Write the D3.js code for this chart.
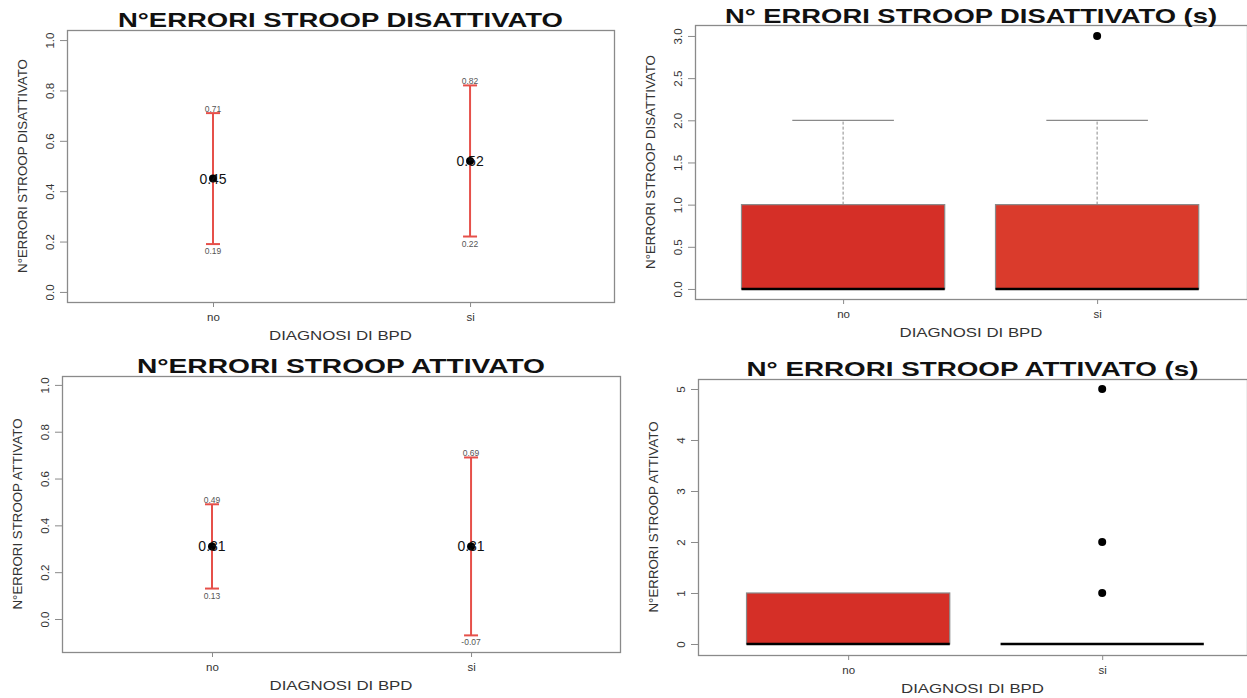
<!DOCTYPE html>
<html lang="en">
<head>
<meta charset="UTF-8">
<title>N°ERRORI STROOP</title>
<script src="https://d3js.org/d3.v7.min.js"></script>
<style>
    body { margin: 0; background: #fff; }
    svg { display: block; font-family: "Liberation Sans", Arial, sans-serif; }
</style>
</head>
<body>
<svg id="chart" width="1247" height="698"></svg>

<script>
    // groups on the x axis
    const groups = ["no", "si"];

    // mean with confidence interval, stroop disattivato
    const disMean = [0.45, 0.52];
    const disLower = [0.19, 0.22];
    const disUpper = [0.71, 0.82];

    // mean with confidence interval, stroop attivato
    const attMean = [0.31, 0.31];
    const attLower = [0.13, -0.07];
    const attUpper = [0.49, 0.69];

    // boxplot stats, stroop disattivato (s)
    const disBoxLow = [0, 0];
    const disQ1 = [0, 0];
    const disMedian = [0, 0];
    const disQ3 = [1, 1];
    const disBoxHigh = [2, 2];
    const disOutliers = [[], [3]];

    // boxplot stats, stroop attivato (s)
    const attBoxLow = [0, 0];
    const attQ1 = [0, 0];
    const attMedian = [0, 0];
    const attQ3 = [1, 0];
    const attBoxHigh = [1, 0];
    const attOutliers = [[], [1, 2, 5]];

    // tick labels
    const meanTicks = [0, 0.2, 0.4, 0.6, 0.8, 1.0];
    const disTicks = [0, 0.5, 1.0, 1.5, 2.0, 2.5, 3.0];
    const attTicks = [0, 1, 2, 3, 4, 5];

    const svg = d3.select("#chart");
    const redBar = "#e6504a";
    const frameCol = "#8a8a8a";

    // R-style number text, plain hyphen for negatives
    const fmt2 = v => v.toFixed(2);

    // draws the frame, axes and titles of one panel, returns the scales
    function panel(p) {
        const g = svg.append("g");
        const x = d3.scaleLinear().domain(p.xlim).range([p.left, p.right]);
        const y = d3.scaleLinear().domain(p.ylim).range([p.bottom, p.top]);

        g.append("rect")
            .attr("x", p.left + 0.5)
            .attr("y", p.top + 0.5)
            .attr("width", p.right - p.left)
            .attr("height", p.bottom - p.top)
            .attr("fill", "none")
            .attr("stroke", frameCol)
            .attr("stroke-width", 1.3);

        // y axis
        const yAxis = g.append("g")
            .attr("transform", `translate(${p.left},0)`)
            .call(d3.axisLeft(y).tickValues(p.ticks).tickSize(7).tickFormat(p.fmt));
        yAxis.select(".domain").remove();
        yAxis.selectAll(".tick line").attr("stroke", frameCol);
        yAxis.selectAll(".tick text")
            .attr("transform", "rotate(-90)")
            .attr("x", 0)
            .attr("y", -13)
            .attr("dy", 0)
            .attr("text-anchor", "middle")
            .attr("font-size", 11.5)
            .attr("fill", "#333");

        // x axis
        const xAxis = g.append("g")
            .attr("transform", `translate(0,${p.bottom})`)
            .call(d3.axisBottom(x).tickValues([1, 2]).tickSize(5).tickFormat((d, i) => groups[i]));
        xAxis.select(".domain").remove();
        xAxis.selectAll(".tick line").attr("stroke", frameCol);
        xAxis.selectAll(".tick text")
            .attr("y", 19)
            .attr("dy", 0)
            .attr("font-size", 11.5)
            .attr("fill", "#333");

        const cx = (p.left + p.right) / 2;

        // title
        g.append("text")
            .attr("x", cx)
            .attr("y", p.titleY)
            .attr("text-anchor", "middle")
            .attr("font-size", 21)
            .attr("font-weight", "bold")
            .attr("fill", "#111")
            .attr("textLength", p.titleLen)
            .attr("lengthAdjust", "spacingAndGlyphs")
            .text(p.title);

        // x axis title
        g.append("text")
            .attr("x", cx)
            .attr("y", p.bottom + 38)
            .attr("text-anchor", "middle")
            .attr("font-size", 13.5)
            .attr("fill", "#333")
            .attr("textLength", 143)
            .attr("lengthAdjust", "spacingAndGlyphs")
            .text("DIAGNOSI DI BPD");

        // y axis title
        g.append("text")
            .attr("transform", `translate(${p.left - 40},${(p.top + p.bottom) / 2}) rotate(-90)`)
            .attr("text-anchor", "middle")
            .attr("font-size", 13.3)
            .attr("fill", "#333")
            .text(p.ylab);

        return { g, x, y };
    }

    // mean + CI chart
    function meanChart(p, mean, lower, upper) {
        const { g, x, y } = panel(p);
        groups.forEach((grp, i) => {
            const xi = x(i + 1);
            g.append("line")
                .attr("x1", xi).attr("x2", xi)
                .attr("y1", y(lower[i])).attr("y2", y(upper[i]))
                .attr("stroke", redBar).attr("stroke-width", 2);
            [lower[i], upper[i]].forEach(v => {
                g.append("line")
                    .attr("x1", xi - 7).attr("x2", xi + 7)
                    .attr("y1", y(v)).attr("y2", y(v))
                    .attr("stroke", redBar).attr("stroke-width", 2);
            });
            g.append("text")
                .attr("x", xi).attr("y", y(upper[i]) - 1)
                .attr("text-anchor", "middle")
                .attr("font-size", 8.5).attr("fill", "#555")
                .text(fmt2(upper[i]));
            g.append("text")
                .attr("x", xi).attr("y", y(lower[i]) + 10)
                .attr("text-anchor", "middle")
                .attr("font-size", 8.5).attr("fill", "#555")
                .text(fmt2(lower[i]));
            g.append("circle")
                .attr("cx", xi).attr("cy", y(mean[i]))
                .attr("r", 4).attr("fill", "#000");
            g.append("text")
                .attr("x", xi).attr("y", y(mean[i]) + 5)
                .attr("text-anchor", "middle")
                .attr("font-size", 14).attr("fill", "#111")
                .text(fmt2(mean[i]));
        });
    }

    // boxplot chart
    function boxChart(p, low, q1, med, q3, high, outliers, fills) {
        const { g, x, y } = panel(p);
        groups.forEach((grp, i) => {
            const xi = x(i + 1);
            const half = x(1.4) - x(1);
            const capHalf = x(1.2) - x(1);
            if (high[i] > q3[i]) {
                g.append("line")
                    .attr("x1", xi).attr("x2", xi)
                    .attr("y1", y(q3[i])).attr("y2", y(high[i]))
                    .attr("stroke", frameCol).attr("stroke-dasharray", "3,2");
                g.append("line")
                    .attr("x1", xi - capHalf).attr("x2", xi + capHalf)
                    .attr("y1", y(high[i])).attr("y2", y(high[i]))
                    .attr("stroke", frameCol).attr("stroke-width", 1.3);
            }
            if (low[i] < q1[i]) {
                g.append("line")
                    .attr("x1", xi).attr("x2", xi)
                    .attr("y1", y(q1[i])).attr("y2", y(low[i]))
                    .attr("stroke", frameCol).attr("stroke-dasharray", "3,2");
            }
            if (q3[i] > q1[i]) {
                g.append("rect")
                    .attr("x", xi - half)
                    .attr("y", y(q3[i]))
                    .attr("width", 2 * half)
                    .attr("height", y(q1[i]) - y(q3[i]))
                    .attr("fill", fills[i])
                    .attr("stroke", frameCol)
                    .attr("stroke-width", 1.2);
            }
            g.append("line")
                .attr("x1", xi - half).attr("x2", xi + half)
                .attr("y1", y(med[i])).attr("y2", y(med[i]))
                .attr("stroke", "#000").attr("stroke-width", 2.5);
            g.selectAll(null)
                .data(outliers[i])
                .enter()
                .append("circle")
                .attr("cx", xi)
                .attr("cy", d => y(d))
                .attr("r", 4)
                .attr("fill", "#000");
        });
    }

    meanChart({
        left: 67, right: 614, top: 30, bottom: 302,
        xlim: [0.432, 2.56], ylim: [-0.04, 1.04],
        ticks: meanTicks, fmt: d => d.toFixed(1),
        title: "N°ERRORI STROOP DISATTIVATO", titleY: 27, titleLen: 445,
        ylab: "N°ERRORI STROOP DISATTIVATO"
    }, disMean, disLower, disUpper);

    boxChart({
        left: 695, right: 1247, top: 25, bottom: 299,
        xlim: [0.417, 2.59], ylim: [-0.119, 3.13],
        ticks: disTicks, fmt: d => d.toFixed(1),
        title: "N° ERRORI STROOP DISATTIVATO (s)", titleY: 23, titleLen: 492,
        ylab: "N°ERRORI STROOP DISATTIVATO"
    }, disBoxLow, disQ1, disMedian, disQ3, disBoxHigh, disOutliers, ["#d52f27", "#da3b2c"]);

    meanChart({
        left: 62, right: 620, top: 376, bottom: 652,
        xlim: [0.421, 2.575], ylim: [-0.141, 1.038],
        ticks: meanTicks, fmt: d => d.toFixed(1),
        title: "N°ERRORI STROOP ATTIVATO", titleY: 373, titleLen: 408,
        ylab: "N°ERRORI STROOP ATTIVATO"
    }, attMean, attLower, attUpper);

    boxChart({
        left: 698, right: 1247, top: 379, bottom: 655,
        xlim: [0.409, 2.57], ylim: [-0.216, 5.196],
        ticks: attTicks, fmt: d => String(d),
        title: "N° ERRORI STROOP ATTIVATO (s)", titleY: 376, titleLen: 452,
        ylab: "N°ERRORI STROOP ATTIVATO"
    }, attBoxLow, attQ1, attMedian, attQ3, attBoxHigh, attOutliers, ["#d52f27", "#da3b2c"]);
</script>
</body>
</html>
